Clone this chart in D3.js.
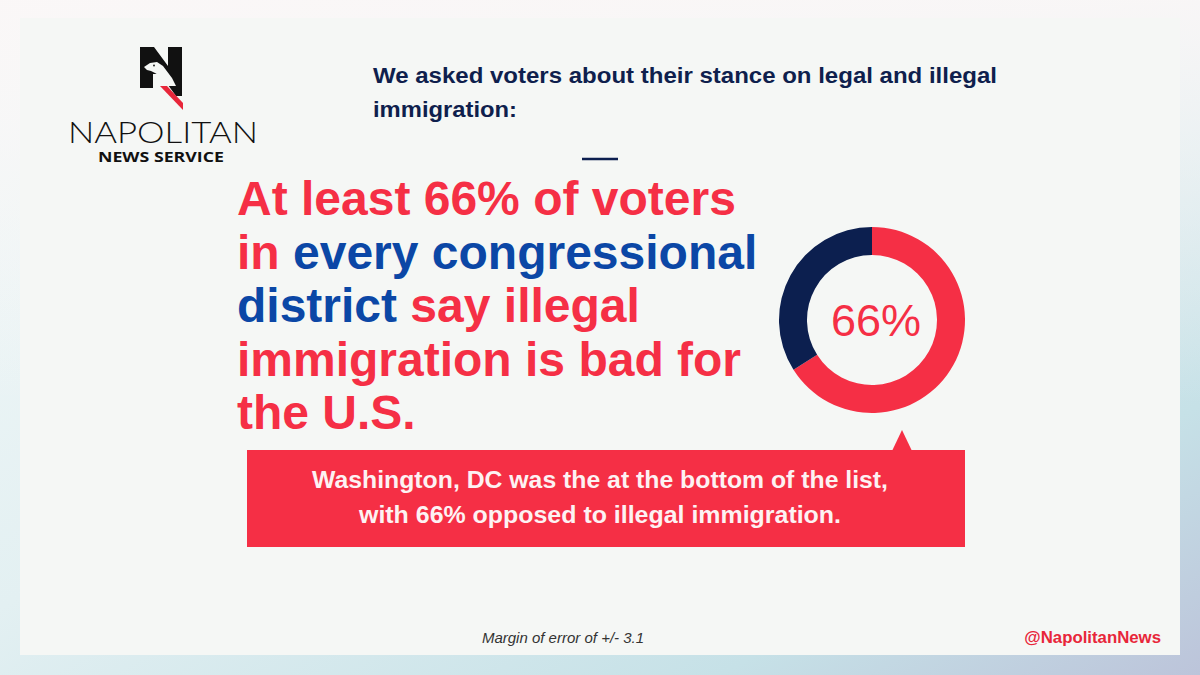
<!DOCTYPE html>
<html>
<head>
<meta charset="utf-8">
<script src="https://cdn.jsdelivr.net/npm/d3@7"></script>
<style>
  html, body { margin: 0; padding: 0; background: #fff; }
  svg { display: block; }
</style>
</head>
<body>
<script>
var w = 1200;
var h = 675;

// data
var shareLabels = ["Illegal immigration is bad", "Other"];
var shareValues = [66, 34];
var shareColors = ["#f52f45", "#0c1f4f"];
var centerLabel = "66%";

var subtitleLines = ["We asked voters about their stance on legal and illegal", "immigration:"];
var subtitleWidths = [624, 144];
// each line is a list of [text, colour key]
var headlineLines = [
  [["At least 66% of voters", "red"]],
  [["in ", "red"], ["every congressional", "blue"]],
  [["district", "blue"], [" say illegal", "red"]],
  [["immigration is bad for", "red"]],
  [["the U.S.", "red"]]
];
var calloutLines = ["Washington, DC was the at the bottom of the list,", "with 66% opposed to illegal immigration."];
var calloutWidths = [576, 482];
var footNote = "Margin of error of +/- 3.1";
var handle = "@NapolitanNews";

var red = "#f52f45";
var blue = "#0b47a6";
var navy = "#0c1f4f";

var svg = d3.select("body")
            .append("svg")
            .attr("width", w)
            .attr("height", h);

//Background gradient
var defs = svg.append("defs");
var bg = defs.append("linearGradient")
    .attr("id", "bg")
    .attr("x1", "0").attr("y1", "0")
    .attr("x2", "1").attr("y2", "1");
bg.append("stop").attr("offset", "0%").attr("stop-color", "#f4f9f9");
bg.append("stop").attr("offset", "45%").attr("stop-color", "#e3f0f2");
bg.append("stop").attr("offset", "80%").attr("stop-color", "#c6e1e7");
bg.append("stop").attr("offset", "100%").attr("stop-color", "#bcc4da");

var bgTop = defs.append("linearGradient")
    .attr("id", "bgTop")
    .attr("x1", "0").attr("y1", "0")
    .attr("x2", "0").attr("y2", "1");
bgTop.append("stop").attr("offset", "0%").attr("stop-color", "#fbf7f7").attr("stop-opacity", 0.9);
bgTop.append("stop").attr("offset", "60%").attr("stop-color", "#fbf7f7").attr("stop-opacity", 0);

svg.append("rect").attr("width", w).attr("height", h).attr("fill", "url(#bg)");
svg.append("rect").attr("width", w).attr("height", h).attr("fill", "url(#bgTop)");

//Card
svg.append("rect")
    .attr("x", 20).attr("y", 18)
    .attr("width", 1160).attr("height", 637)
    .attr("fill", "#f5f7f5");

//Logo
var logo = svg.append("g");
logo.append("path")
    .attr("d", "M140,47 L154,47 L168,66 L168,47 L182,47 L182,96 L176,96 L160,74 L153,74 L153,88 L140,88 Z")
    .attr("fill", "#111");
// eagle head cut out
logo.append("path")
    .attr("d", "M144,67 L150,63 L157,62 L163,66 L172,78 L176,86 L168,86 L160,76 L155,73 L151,71 L147,70 Z")
    .attr("fill", "#f5f7f5");
logo.append("circle").attr("cx", 154).attr("cy", 65.5).attr("r", 0.9).attr("fill", "#111");
logo.append("path")
    .attr("d", "M160,86 L167,86 L183,103 L183,110 Z")
    .attr("fill", "#e8263a");

logo.append("text")
    .attr("x", 68).attr("y", 143)
    .attr("textLength", 190)
    .attr("lengthAdjust", "spacingAndGlyphs")
    .style("font-family", "Lato, 'Open Sans', sans-serif")
    .style("font-weight", 300)
    .style("font-size", "30px")
    .attr("fill", "#111")
    .text("NAPOLITAN");
logo.append("text")
    .attr("x", 98).attr("y", 162)
    .attr("textLength", 126)
    .attr("lengthAdjust", "spacingAndGlyphs")
    .style("font-family", "'Open Sans', Lato, sans-serif")
    .style("font-weight", 700)
    .style("font-size", "14px")
    .attr("fill", "#111")
    .text("NEWS SERVICE");

//Subtitle
svg.append("g").selectAll("text")
    .data(subtitleLines)
    .enter()
    .append("text")
    .attr("x", 373)
    .attr("y", function(d, i) { return 83 + i * 34; })
    .attr("textLength", function(d, i) { return subtitleWidths[i]; })
    .attr("lengthAdjust", "spacingAndGlyphs")
    .style("font-family", "'Liberation Sans', Arial, sans-serif")
    .style("font-weight", 700)
    .style("font-size", "22px")
    .attr("fill", "#0f1f4d")
    .text(function(d) { return d; });

svg.append("line")
    .attr("x1", 582).attr("x2", 618)
    .attr("y1", 159).attr("y2", 159)
    .attr("stroke", navy).attr("stroke-width", 2.5);

//Headline
var headline = svg.append("g");
headline.selectAll("text")
    .data(headlineLines)
    .enter()
    .append("text")
    .attr("x", 237)
    .attr("y", function(d, i) { return 215 + i * 53.5; })
    .style("font-family", "'Liberation Sans', Arial, sans-serif")
    .style("font-weight", 700)
    .style("font-size", "48px")
    .attr("xml:space", "preserve")
    .style("white-space", "pre")
    .selectAll("tspan")
    .data(function(d) { return d; })
    .enter()
    .append("tspan")
    .attr("fill", function(d) { return d[1] === "blue" ? blue : red; })
    .text(function(d) { return d[0]; });

//Donut
var cx = 872, cy = 320;
var pie = d3.pie().sort(null).value(function(d) { return d; });
var arc = d3.arc().innerRadius(65).outerRadius(93);

var donut = svg.append("g")
    .attr("transform", "translate(" + cx + "," + cy + ")");
donut.selectAll("path")
    .data(pie(shareValues))
    .enter()
    .append("path")
    .attr("d", arc)
    .attr("fill", function(d, i) { return shareColors[i]; })
    .append("title")
    .text(function(d, i) { return shareLabels[i] + ": " + d.data + "%"; });

donut.append("text")
    .attr("x", 4).attr("y", 16)
    .attr("text-anchor", "middle")
    .style("font-family", "'Liberation Sans', Arial, sans-serif")
    .style("font-size", "45px")
    .attr("fill", red)
    .text(centerLabel);

//Callout
svg.append("path")
    .attr("d", "M892,451 L902,430 L912,451 Z")
    .attr("fill", red);
svg.append("rect")
    .attr("x", 247).attr("y", 450)
    .attr("width", 718).attr("height", 97)
    .attr("fill", red);
svg.append("g").selectAll("text")
    .data(calloutLines)
    .enter()
    .append("text")
    .attr("x", 600)
    .attr("y", function(d, i) { return 488 + i * 35; })
    .attr("text-anchor", "middle")
    .attr("textLength", function(d, i) { return calloutWidths[i]; })
    .attr("lengthAdjust", "spacingAndGlyphs")
    .style("font-family", "'Liberation Sans', Arial, sans-serif")
    .style("font-weight", 700)
    .style("font-size", "23px")
    .attr("fill", "#fdf2f3")
    .text(function(d) { return d; });

//Footer
svg.append("text")
    .attr("x", 563).attr("y", 643)
    .attr("text-anchor", "middle")
    .style("font-family", "'Liberation Sans', Arial, sans-serif")
    .style("font-style", "italic")
    .style("font-size", "15px")
    .attr("fill", "#333")
    .text(footNote);

svg.append("text")
    .attr("x", 1161).attr("y", 643)
    .attr("text-anchor", "end")
    .style("font-family", "'Liberation Sans', Arial, sans-serif")
    .style("font-weight", 700)
    .style("font-size", "16.8px")
    .attr("fill", "#e8263a")
    .text(handle);
</script>
</body>
</html>
